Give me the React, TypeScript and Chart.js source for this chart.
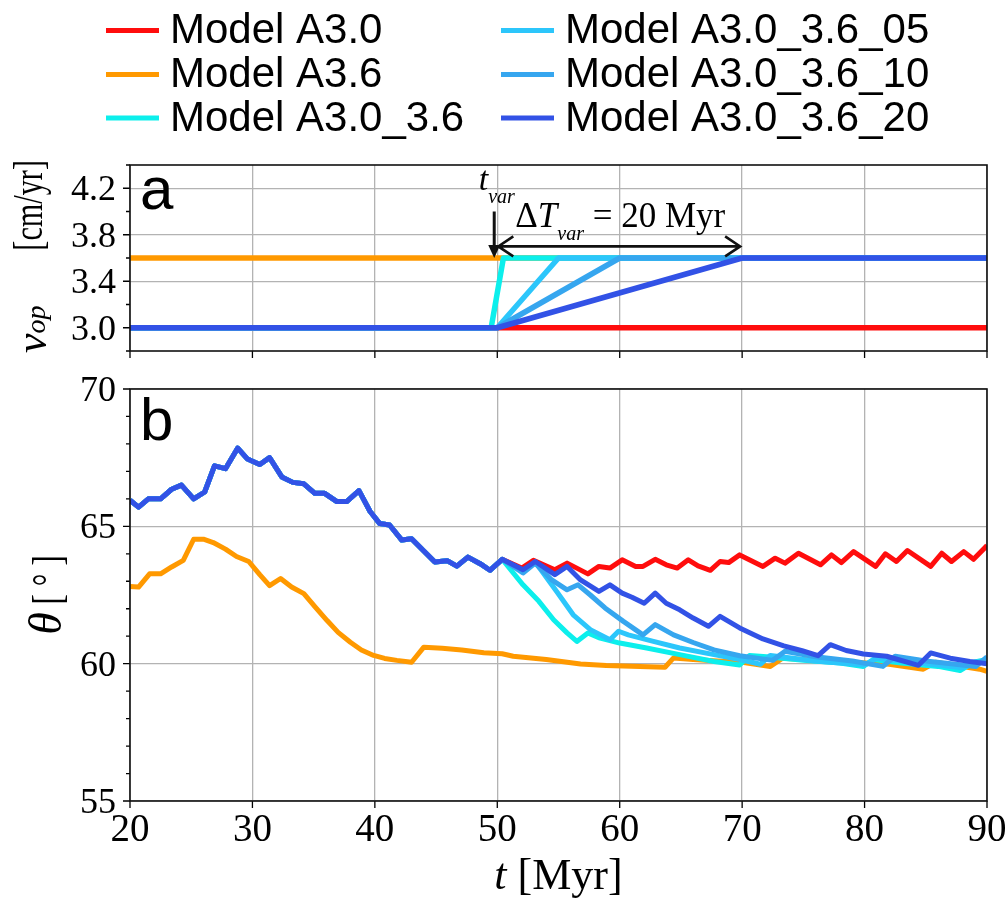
import React, { useEffect, useRef } from "react";
import { Chart, registerables } from "chart.js";

Chart.register(...registerables);

const W = 1007;
const H = 902;

const SERIF = '"Liberation Serif","Times New Roman",Times,serif';
const SANS = '"Liberation Sans",Arial,Helvetica,sans-serif';

// ---------- legend / series meta ----------
const MODEL_LABELS = [
  "Model A3.0",
  "Model A3.6",
  "Model A3.0_3.6",
  "Model A3.0_3.6_05",
  "Model A3.0_3.6_10",
  "Model A3.0_3.6_20",
];
const MODEL_COLORS = ["#ff0d0d", "#ff9900", "#0cefec", "#2cc6fb", "#36a6ef", "#3252e6"];

// ---------- axes ----------
const T_MIN = 20;
const T_MAX = 90;
const T_TICKS = [20, 30, 40, 50, 60, 70, 80, 90];
const VOP_MIN = 2.8;
const VOP_MAX = 4.4;
const VOP_TICKS = [3.0, 3.4, 3.8, 4.2];
const VOP_MINOR = [2.8, 3.2, 3.6, 4.0, 4.4];
const THETA_MIN = 55;
const THETA_MAX = 70;
const THETA_TICKS = [55, 60, 65, 70];
const THETA_MINOR = [56, 57, 58, 59, 61, 62, 63, 64, 66, 67, 68, 69];

// ---------- panel a : plate velocity ----------
const VOP_A30_T = [20, 90];
const VOP_A30 = [3.0, 3.0];
const VOP_A36_T = [20, 90];
const VOP_A36 = [3.6, 3.6];
const VOP_A30_36_T = [20, 49.5, 50.5, 90];
const VOP_A30_36 = [3.0, 3.0, 3.6, 3.6];
const VOP_05_T = [20, 50, 55, 90];
const VOP_05 = [3.0, 3.0, 3.6, 3.6];
const VOP_10_T = [20, 50, 60, 90];
const VOP_10 = [3.0, 3.0, 3.6, 3.6];
const VOP_20_T = [20, 50, 70, 90];
const VOP_20 = [3.0, 3.0, 3.6, 3.6];

const T_VAR = 50;
const DT_VAR = 20;

// ---------- panel b : slab dip angle ----------
// shared history of the 3.0 cm/yr models before the change
const BASE_T = [20.0, 20.7, 21.5, 22.5, 23.4, 24.2, 25.2, 26.1, 26.9, 27.8, 28.8, 29.6, 30.6, 31.4, 32.4, 33.3, 34.2, 35.1, 35.9, 36.9, 37.7, 38.7, 39.6, 40.4, 41.2, 42.2, 43.0, 44.0, 44.9, 45.9, 46.7, 47.6, 48.6, 49.4, 50.4];
const BASE_TH = [65.95, 65.7, 66.0, 66.0, 66.35, 66.5, 66.0, 66.25, 67.2, 67.1, 67.85, 67.45, 67.25, 67.5, 66.8, 66.6, 66.55, 66.2, 66.2, 65.9, 65.9, 66.3, 65.55, 65.1, 65.05, 64.5, 64.55, 64.1, 63.7, 63.75, 63.55, 63.88, 63.64, 63.4, 63.8];

const A30_T = [52.0, 52.95, 54.7, 55.7, 57.4, 58.3, 59.2, 60.2, 61.3, 61.9, 62.9, 63.8, 64.7, 65.6, 66.4, 67.4, 68.2, 68.9, 69.8, 71.7, 72.7, 73.5, 74.6, 76.4, 77.3, 78.1, 79.1, 80.9, 81.7, 82.6, 83.5, 85.4, 86.3, 87.1, 88.1, 88.9, 90.0];
const A30_TH = [63.48, 63.76, 63.42, 63.66, 63.27, 63.54, 63.48, 63.78, 63.54, 63.54, 63.8, 63.6, 63.48, 63.78, 63.56, 63.4, 63.72, 63.68, 63.96, 63.54, 63.84, 63.66, 64.02, 63.6, 63.96, 63.68, 64.08, 63.54, 64.0, 63.72, 64.12, 63.54, 64.02, 63.72, 64.08, 63.8, 64.3];

const A36_T = [20.0, 20.7, 21.6, 22.5, 23.4, 24.35, 25.2, 26.0, 26.8, 27.8, 28.7, 29.7, 30.6, 31.4, 32.3, 33.2, 34.2, 35.1, 36.1, 37.0, 38.0, 38.9, 39.9, 40.8, 41.8, 43.0, 44.0, 45.5, 47.1, 48.9, 50.4, 51.3, 54.0, 56.8, 58.9, 63.7, 64.4, 66.0, 68.0, 70.0, 72.3, 73.3, 76.0, 79.0, 82.0, 84.8, 85.8, 88.0, 89.4, 90.0];
const A36_TH = [62.81, 62.79, 63.27, 63.27, 63.52, 63.76, 64.53, 64.53, 64.41, 64.17, 63.9, 63.72, 63.24, 62.84, 63.1, 62.79, 62.55, 62.08, 61.57, 61.14, 60.78, 60.5, 60.3, 60.19, 60.12, 60.05, 60.6, 60.56, 60.5, 60.4, 60.36, 60.27, 60.15, 59.99, 59.93, 59.87, 60.21, 60.15, 60.1, 60.05, 59.9, 60.2, 60.12, 60.05, 59.98, 59.8, 60.05, 59.9, 59.8, 59.72];

const A30_36_T = [52.1, 53.4, 54.6, 55.7, 56.5, 57.4, 58.4, 60.0, 62.2, 64.9, 67.7, 69.8, 70.6, 72.0, 75.0, 78.0, 79.9, 80.7, 83.0, 86.0, 87.8, 88.9, 90.0];
const A30_36_TH = [62.87, 62.27, 61.6, 61.12, 60.81, 61.12, 60.93, 60.75, 60.57, 60.33, 60.08, 59.95, 60.3, 60.25, 60.12, 60.02, 59.9, 60.15, 60.02, 59.9, 59.75, 60.05, 60.15];

const A30_36_05_T = [52.1, 53.1, 54.85, 56.2, 57.6, 59.2, 59.9, 60.7, 62.75, 64.9, 67.7, 69.8, 71.5, 72.3, 76.0, 80.0, 81.0, 85.0, 88.0, 89.0, 90.0];
const A30_36_05_TH = [63.35, 63.7, 62.63, 61.78, 61.24, 60.87, 61.18, 61.05, 60.81, 60.57, 60.33, 60.15, 59.98, 60.3, 60.1, 59.95, 60.2, 60.0, 59.85, 60.05, 60.1];

const A30_36_10_T = [52.1, 53.1, 54.45, 55.7, 56.6, 57.6, 58.8, 60.3, 61.9, 62.9, 64.4, 66.0, 67.7, 69.8, 72.5, 73.5, 76.0, 79.0, 81.5, 82.5, 85.0, 89.1, 90.0];
const A30_36_10_TH = [63.3, 63.66, 63.05, 62.69, 62.87, 62.5, 62.03, 61.54, 61.05, 61.42, 61.05, 60.77, 60.5, 60.29, 60.12, 60.45, 60.25, 60.1, 59.9, 60.27, 60.1, 59.9, 60.25];

const A30_36_20_T = [52.1, 53.1, 54.7, 55.7, 56.8, 58.3, 59.2, 60.2, 61.0, 62.0, 62.9, 63.8, 64.9, 66.0, 67.25, 68.2, 69.8, 71.7, 73.4, 74.9, 76.2, 77.2, 78.5, 79.9, 81.8, 84.4, 85.4, 87.0, 88.6, 90.0];
const A30_36_20_TH = [63.42, 63.72, 63.24, 63.54, 63.05, 62.63, 62.87, 62.57, 62.42, 62.2, 62.57, 62.2, 61.96, 61.66, 61.36, 61.72, 61.3, 60.9, 60.65, 60.47, 60.29, 60.69, 60.48, 60.35, 60.27, 59.94, 60.39, 60.2, 60.08, 60.0];

// ---------- helpers ----------
function pts(ts: number[], vs: number[]) {
  return ts.map((t, i) => ({ x: t, y: vs[i] }));
}

type Run = { t: string; font: string; dy?: number; sx?: number };

function runsWidth(ctx: CanvasRenderingContext2D, runs: Run[]) {
  let w = 0;
  for (const r of runs) {
    ctx.font = r.font;
    w += ctx.measureText(r.t).width * (r.sx ?? 1);
  }
  return w;
}

function drawRuns(ctx: CanvasRenderingContext2D, runs: Run[], x: number, y: number, align: "left" | "center" | "right" = "left") {
  const w = runsWidth(ctx, runs);
  let cx = align === "left" ? x : align === "center" ? x - w / 2 : x - w;
  ctx.textAlign = "left";
  ctx.textBaseline = "alphabetic";
  for (const r of runs) {
    ctx.font = r.font;
    const sx = r.sx ?? 1;
    ctx.save();
    ctx.translate(cx, y + (r.dy ?? 0));
    ctx.scale(sx, 1);
    ctx.fillText(r.t, 0, 0);
    ctx.restore();
    cx += ctx.measureText(r.t).width * sx;
  }
}

type FrameOpts = {
  id: string;
  yMajor: number[];
  yMinor: number[];
  fmt: (v: number) => string;
  xLabels: boolean;
  extra: (chart: any, ctx: CanvasRenderingContext2D) => void;
};

function framePlugin(o: FrameOpts) {
  return {
    id: "frame_" + o.id,
    afterDraw(chart: any) {
      const ctx: CanvasRenderingContext2D = chart.ctx;
      const { left, right, top, bottom } = chart.chartArea;
      const xs = chart.scales.x;
      const ys = chart.scales.y;
      ctx.save();
      // ticks
      ctx.strokeStyle = "#000";
      ctx.lineWidth = 1.3;
      ctx.beginPath();
      o.yMajor.forEach((v) => {
        const p = ys.getPixelForValue(v);
        ctx.moveTo(left - 7, p);
        ctx.lineTo(left, p);
      });
      o.yMinor.forEach((v) => {
        const p = ys.getPixelForValue(v);
        ctx.moveTo(left - 4, p);
        ctx.lineTo(left, p);
      });
      T_TICKS.forEach((v) => {
        const p = xs.getPixelForValue(v);
        ctx.moveTo(p, bottom);
        ctx.lineTo(p, bottom + 7);
      });
      ctx.stroke();
      // spines
      ctx.lineWidth = 1.6;
      ctx.strokeStyle = "#111";
      ctx.strokeRect(left, top, right - left, bottom - top);
      // tick labels
      ctx.fillStyle = "#000";
      ctx.font = `36px ${SERIF}`;
      ctx.textAlign = "right";
      ctx.textBaseline = "alphabetic";
      o.yMajor.forEach((v) => {
        ctx.fillText(o.fmt(v), left - 14, ys.getPixelForValue(v) + 12);
      });
      if (o.xLabels) {
        ctx.font = `39px ${SERIF}`;
        ctx.textAlign = "center";
        T_TICKS.forEach((v) => {
          ctx.fillText(String(v), xs.getPixelForValue(v), bottom + 40);
        });
      }
      o.extra(chart, ctx);
      ctx.restore();
    },
  };
}

function baseOptions(yMin: number, yMax: number, yTicks: number[], padTop: number, padBottom: number) {
  return {
    responsive: false,
    animation: false as const,
    events: [] as any[],
    layout: { padding: { left: 130, right: 20, top: padTop, bottom: padBottom } },
    plugins: { legend: { display: false }, tooltip: { enabled: false } },
    elements: {
      point: { radius: 0 },
      line: { tension: 0, borderJoinStyle: "round" as const, borderCapStyle: "butt" as const },
    },
    scales: {
      x: {
        type: "linear" as const,
        min: T_MIN,
        max: T_MAX,
        afterBuildTicks: (s: any) => {
          s.ticks = T_TICKS.map((v) => ({ value: v }));
        },
        afterFit: (s: any) => {
          s.height = 0;
        },
        ticks: { display: false },
        grid: { color: "#b3b3b3", lineWidth: 1.3, drawTicks: false },
        border: { display: false },
      },
      y: {
        type: "linear" as const,
        min: yMin,
        max: yMax,
        afterBuildTicks: (s: any) => {
          s.ticks = yTicks.map((v) => ({ value: v }));
        },
        afterFit: (s: any) => {
          s.width = 0;
        },
        ticks: { display: false },
        grid: { color: "#b3b3b3", lineWidth: 1.3, drawTicks: false },
        border: { display: false },
      },
    },
  };
}

export default function App() {
  const refA = useRef<HTMLCanvasElement>(null);
  const refB = useRef<HTMLCanvasElement>(null);

  useEffect(() => {
    const vopSeries = [
      pts(VOP_A30_T, VOP_A30),
      pts(VOP_A36_T, VOP_A36),
      pts(VOP_A30_36_T, VOP_A30_36),
      pts(VOP_05_T, VOP_05),
      pts(VOP_10_T, VOP_10),
      pts(VOP_20_T, VOP_20),
    ];
    const thetaSeries = [
      pts(BASE_T.concat(A30_T), BASE_TH.concat(A30_TH)),
      pts(A36_T, A36_TH),
      pts(BASE_T.concat(A30_36_T), BASE_TH.concat(A30_36_TH)),
      pts(BASE_T.concat(A30_36_05_T), BASE_TH.concat(A30_36_05_TH)),
      pts(BASE_T.concat(A30_36_10_T), BASE_TH.concat(A30_36_10_TH)),
      pts(BASE_T.concat(A30_36_20_T), BASE_TH.concat(A30_36_20_TH)),
    ];

    const extraA = (chart: any, ctx: CanvasRenderingContext2D) => {
      const xs = chart.scales.x;
      const ys = chart.scales.y;
      const px = (v: number) => xs.getPixelForValue(v);
      const py = (v: number) => ys.getPixelForValue(v);
      const { left, top } = chart.chartArea;

      // legend (two columns, three rows)
      const rowBase = [43, 87, 130.5];
      const cols = [
        { x0: 106, x1: 159, tx: 170 },
        { x0: 501, x1: 554, tx: 565 },
      ];
      MODEL_LABELS.forEach((lab, i) => {
        const c = cols[Math.floor(i / 3)];
        const yb = rowBase[i % 3];
        ctx.strokeStyle = MODEL_COLORS[i];
        ctx.lineWidth = 5;
        ctx.beginPath();
        ctx.moveTo(c.x0, yb - 12.5);
        ctx.lineTo(c.x1, yb - 12.5);
        ctx.stroke();
        ctx.fillStyle = "#000";
        ctx.font = `42px ${SANS}`;
        ctx.textAlign = "left";
        ctx.textBaseline = "alphabetic";
        ctx.fillText(lab, c.tx, yb);
      });

      // panel letter
      ctx.fillStyle = "#000";
      ctx.font = `60px ${SANS}`;
      ctx.textAlign = "left";
      ctx.fillText("a", left + 10, top + 44);

      // y title (rotated)
      const cy = (chart.chartArea.top + chart.chartArea.bottom) / 2;
      ctx.save();
      ctx.translate(46, cy);
      ctx.rotate(-Math.PI / 2);
      drawRuns(ctx, [
        { t: "v", font: `italic 44px ${SERIF}` },
        { t: "op", font: `italic 28px ${SERIF}`, dy: -1 },
      ], -95, 0, "left");
      ctx.restore();
      ctx.save();
      ctx.translate(42, cy);
      ctx.rotate(-Math.PI / 2);
      drawRuns(ctx, [{ t: "[cm/yr]", font: `42px ${SERIF}`, sx: 0.72 }], 98, 0, "right");
      ctx.restore();

      // t_var label + arrow
      const xv = px(T_VAR);
      ctx.fillStyle = "#000";
      drawRuns(ctx, [
        { t: "t", font: `italic 34px ${SERIF}` },
        { t: "var", font: `italic 20px ${SERIF}`, dy: 13 },
      ], xv - 18.5, py(4.2) + 2, "left");

      const ax = px(T_VAR - 0.25);
      const yTop = py(4.0);
      const yTip = py(3.6);
      ctx.strokeStyle = "#111";
      ctx.lineWidth = 3;
      ctx.beginPath();
      ctx.moveTo(ax, yTop);
      ctx.lineTo(ax, yTip - 11);
      ctx.stroke();
      ctx.fillStyle = "#111";
      ctx.beginPath();
      ctx.moveTo(ax, yTip);
      ctx.lineTo(ax - 6, yTip - 13);
      ctx.lineTo(ax + 6, yTip - 13);
      ctx.closePath();
      ctx.fill();

      // double arrow for Delta T_var
      const ya = py(3.7);
      const xa0 = px(T_VAR) + 1;
      const xa1 = px(T_VAR + DT_VAR) - 2;
      ctx.lineWidth = 2.6;
      ctx.lineJoin = "miter";
      ctx.beginPath();
      ctx.moveTo(xa0, ya);
      ctx.lineTo(xa1, ya);
      ctx.moveTo(xa0 + 15, ya - 10);
      ctx.lineTo(xa0, ya);
      ctx.lineTo(xa0 + 15, ya + 10);
      ctx.moveTo(xa1 - 15, ya - 10);
      ctx.lineTo(xa1, ya);
      ctx.lineTo(xa1 - 15, ya + 10);
      ctx.stroke();

      ctx.fillStyle = "#000";
      drawRuns(ctx, [
        { t: "\u0394", font: `35px ${SERIF}` },
        { t: "T", font: `italic 35px ${SERIF}` },
        { t: "var", font: `italic 20px ${SERIF}`, dy: 13 },
        { t: " = 20 Myr", font: `35px ${SERIF}` },
      ], xv + 18, py(3.8) - 8, "left");
    };

    const extraB = (chart: any, ctx: CanvasRenderingContext2D) => {
      const { left, right, top, bottom } = chart.chartArea;
      ctx.fillStyle = "#000";
      ctx.font = `60px ${SANS}`;
      ctx.textAlign = "left";
      ctx.fillText("b", left + 10, top + 51);

      // y title
      const cy = (top + bottom) / 2;
      ctx.save();
      ctx.translate(61, cy);
      ctx.rotate(-Math.PI / 2);
      drawRuns(ctx, [
        { t: "\u03b8", font: `italic 46px ${SERIF}` },
        { t: " ", font: `30px ${SERIF}` },
        { t: "[ \u00b0 ]", font: `42px ${SERIF}`, sx: 0.75 },
      ], 0, 0, "center");
      ctx.restore();

      // x title
      drawRuns(ctx, [
        { t: "t", font: `italic 44px ${SERIF}` },
        { t: " [Myr]", font: `44px ${SERIF}` },
      ], (left + right) / 2, bottom + 88, "center");
    };

    const cfgA: any = {
      type: "line",
      data: {
        datasets: vopSeries.map((d, i) => ({
          label: MODEL_LABELS[i],
          data: d,
          borderColor: MODEL_COLORS[i],
          backgroundColor: MODEL_COLORS[i],
          borderWidth: 5.5,
          order: MODEL_LABELS.length - i,
        })),
      },
      options: baseOptions(VOP_MIN, VOP_MAX, VOP_TICKS, 165, H - 351),
      plugins: [
        framePlugin({
          id: "a",
          yMajor: VOP_TICKS,
          yMinor: VOP_MINOR,
          fmt: (v) => v.toFixed(1),
          xLabels: false,
          extra: extraA,
        }),
      ],
    };

    const cfgB: any = {
      type: "line",
      data: {
        datasets: thetaSeries.map((d, i) => ({
          label: MODEL_LABELS[i],
          data: d,
          borderColor: MODEL_COLORS[i],
          backgroundColor: MODEL_COLORS[i],
          borderWidth: 5,
          order: MODEL_LABELS.length - i,
        })),
      },
      options: baseOptions(THETA_MIN, THETA_MAX, THETA_TICKS, 389, H - 801),
      plugins: [
        framePlugin({
          id: "b",
          yMajor: THETA_TICKS,
          yMinor: THETA_MINOR,
          fmt: (v) => String(v),
          xLabels: true,
          extra: extraB,
        }),
      ],
    };

    const a = new Chart(refA.current as HTMLCanvasElement, cfgA);
    const b = new Chart(refB.current as HTMLCanvasElement, cfgB);
    return () => {
      a.destroy();
      b.destroy();
    };
  }, []);

  return (
    <div style={{ position: "absolute", left: 0, top: 0, width: W, height: H, background: "#fff" }}>
      <canvas ref={refB} width={W} height={H} style={{ position: "absolute", left: 0, top: 0 }} />
      <canvas ref={refA} width={W} height={H} style={{ position: "absolute", left: 0, top: 0 }} />
    </div>
  );
}
